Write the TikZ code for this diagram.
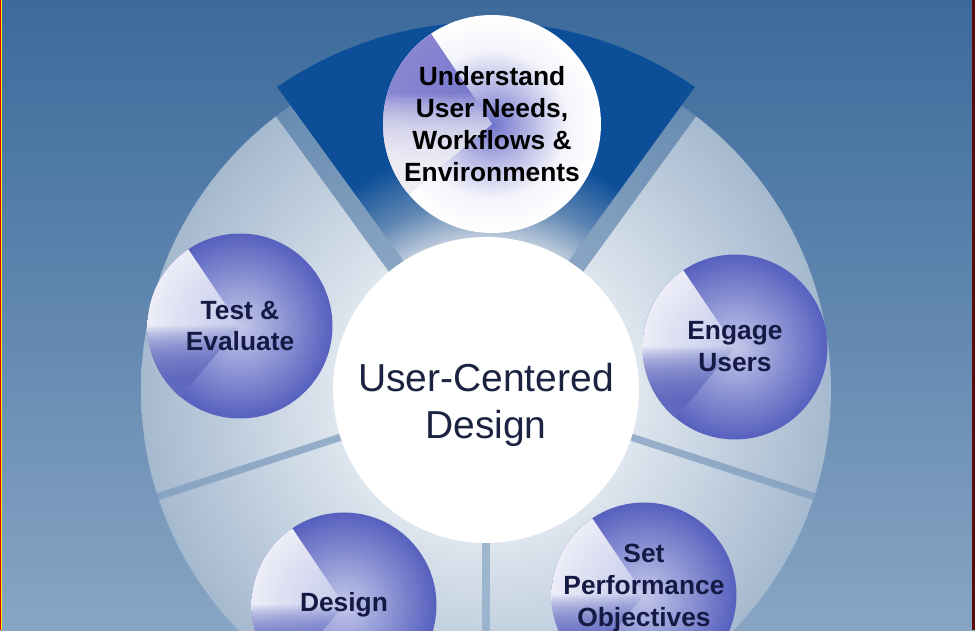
\documentclass[tikz,border=0pt]{standalone}
\usepackage{fontspec}
\setmainfont{Liberation Sans}
\usetikzlibrary{positioning}
\definecolor{bgtop}{HTML}{3B6A9B}
\definecolor{bgbot}{HTML}{88A5C4}
\definecolor{ringin}{HTML}{DEE6EE}
\definecolor{ringout}{HTML}{A5B9CF}
\definecolor{wedgelight}{HTML}{B9C8DA}
\definecolor{wedgemid}{HTML}{5F86B3}
\definecolor{wedgedark}{HTML}{0C4E98}
\definecolor{bubin}{HTML}{C3C8EA}
\definecolor{bubout}{HTML}{5660BE}
\definecolor{bubhi}{HTML}{ECEDF7}
\definecolor{purp}{HTML}{7073CC}
\definecolor{purphi}{HTML}{8985D1}
\definecolor{stagetext}{HTML}{141A44}
\definecolor{hubtext}{HTML}{1C2340}
\definecolor{edgemaroon}{HTML}{5A0A0A}
\pgfdeclareradialshading{ringshade}{\pgfpointorigin}{color(0bp)=(white); color(11bp)=(ringin); color(25bp)=(ringout); color(50bp)=(ringout)}
\pgfdeclareradialshading{topshade}{\pgfpointorigin}{color(0bp)=(white); color(10.5bp)=(wedgelight); color(13bp)=(wedgemid); color(16.5bp)=(wedgedark); color(50bp)=(wedgedark)}
\pgfdeclareradialshading{bubble}{\pgfpointorigin}{color(0bp)=(bubin); color(25bp)=(bubout); color(50bp)=(bubout)}
\pgfdeclareradialshading{bubblehi}{\pgfpointorigin}{color(0bp)=(bubin); color(25bp)=(bubhi); color(50bp)=(bubhi)}
\pgfdeclareradialshading{bubbleU}{\pgfpointorigin}{color(0bp)=(purp); color(7bp)=(purp!60!white); color(17bp)=(purp!8!white); color(25bp)=(white); color(50bp)=(white)}
\pgfdeclareradialshading{bubbleUhi}{\pgfpointorigin}{color(0bp)=(purp); color(25bp)=(purphi); color(50bp)=(purphi)}
\tikzset{
	backdrop/.style={top color=bgtop, bottom color=bgbot},
	stage/.style={circle, inner sep=-4pt, minimum size=3.7cm, shading=bubble, text=stagetext, align=center,
		font=\bfseries\fontsize{15pt}{18.2pt}\selectfont,
		path picture={
			\clip (path picture bounding box.center) -- ++(124:100) arc[start angle=124, end angle=230, radius=100] -- cycle;
			\shade[shading=bubblehi] (path picture bounding box.center) circle[radius=92.5];
			\foreach \i in {0,...,27}
				\fill[bubout, opacity=.08] (path picture bounding box.center) ++(-100,-100) rectangle ++(100,100-2*\i);
		}},
	stageU/.style={circle, inner sep=-4pt, minimum size=4.36cm, shading=bubbleU, text=black, align=center,
		font=\bfseries\fontsize{15pt}{18.2pt}\selectfont,
		path picture={
			\clip (path picture bounding box.center) -- ++(124:115) arc[start angle=124, end angle=220, radius=115] -- cycle;
			\shade[shading=bubbleUhi] (path picture bounding box.center) circle[radius=109];
			\foreach \i in {0,...,27}
				\fill[white, opacity=.08] (path picture bounding box.center) ++(-115,-100) rectangle ++(115,130-2.6*\i);
		}},
	hub/.style={circle, inner sep=0pt, minimum size=6.12cm, fill=white},
	hublabel/.style={align=center, text=hubtext, font=\fontsize{22.2pt}{26.7pt}\selectfont}
}
\begin{document}
\begin{tikzpicture}[x=0.02cm, y=0.02cm]
	\useasboundingbox (0,0) rectangle (975,630);
	\clip (0,0) rectangle (975,630);
	\shade[backdrop] (0,0) rectangle (975,630);
	\coordinate (C) at (486,240);
	
	% ring and the pulled-out top sector
	\shade[shading=ringshade] (C) circle[radius=345];
	\begin{scope}
		\clip (C) -- ++(54:400) arc[start angle=54, end angle=126, radius=400] -- cycle;
		\shade[shading=topshade] (C) circle[radius=368];
	\end{scope}
	
	% gaps between sectors
	\foreach \a/\w in {54/9,126/9,198/3.5,270/3.5,342/3.5}{
		\begin{scope}
			\clip[shift={(C)}, rotate=\a] (0,-\w) rectangle (420,\w);
			\shade[backdrop] (0,0) rectangle (975,630);
			\shade[shading=ringshade, opacity=.35] (C) circle[radius=345];
		\end{scope}
	}
	
	\node[stageU] (needs) at (492,506) {Understand\\User Needs,\\Workflows \&\\Environments};
	\node[stage] (engage) at (735,283) {Engage\\Users};
	\node[stage, text depth=11pt] (perf) at (644,35) {Set\\Performance\\Objectives};
	\node[stage] (design) at (344,25) {Design};
	\node[stage] (test) at (240,304) {Test \&\\Evaluate};
	
	\node[hub] (hub) at (C) {};
	\node[hublabel] (hubtext) at (486,225) {User-Centered\\Design};
	
	% frame edges
	\fill[red!85!black] (0,0) rectangle (1,630);
	\fill[yellow] (1,0) rectangle (2,630);
	\fill[edgemaroon] (972,0) rectangle (974.5,630);
\end{tikzpicture}
\end{document}
